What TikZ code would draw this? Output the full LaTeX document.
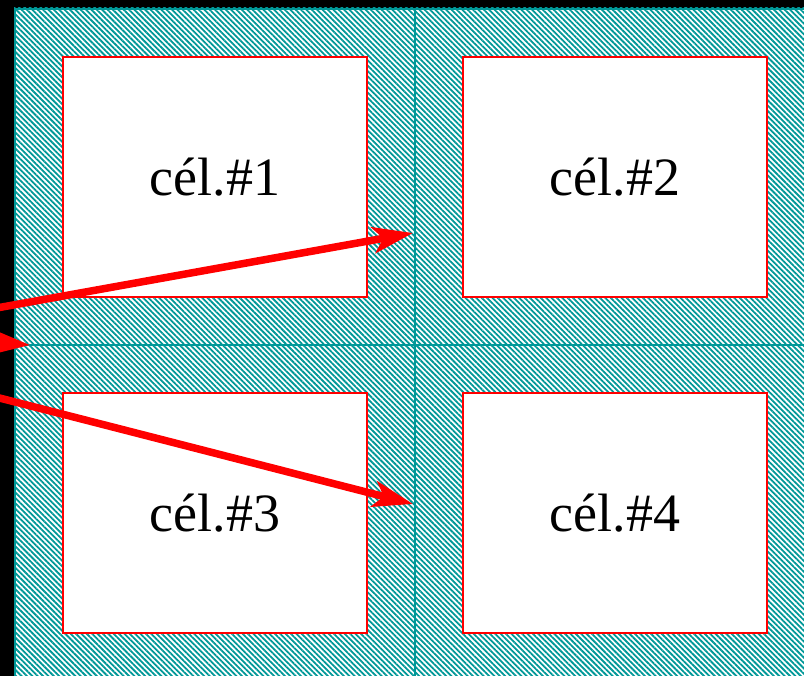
\documentclass[tikz,border=0pt]{standalone}
\usepackage{fontspec}
\setmainfont{Liberation Serif}
\usetikzlibrary{patterns.meta,arrows.meta}
\definecolor{tealc}{RGB}{0,152,152}
\definecolor{redc}{RGB}{255,0,0}
\tikzset{
  cell/.style={draw=redc, line width=1.6pt, fill=white, minimum width=304pt, minimum height=240pt, inner sep=0pt, font=\fontsize{54}{60}\selectfont},
  arr/.style={draw=redc, line width=7.5pt, -{Stealth[length=40pt,width=26pt,inset=10pt]}},
  gridline/.style={draw=tealc, line width=2.4pt},
}
\begin{document}
\begin{tikzpicture}[x=1pt,y=-1pt]
\useasboundingbox (0,0) rectangle (804,676);
\fill[black] (0,0) rectangle (804,676);
\fill[white] (14,8) rectangle (810,680);
\fill[pattern={Lines[angle=-45,distance=3.8pt,line width=1.8pt]}, pattern color=tealc] (14,8) rectangle (810,680);
\draw[gridline] (15,680) -- (15,9) -- (810,9);
\coordinate (gt) at (415,9);
\coordinate (gb) at (415,680);
\coordinate (gl) at (15,345);
\coordinate (gr) at (810,345);
\draw[gridline] (gt) -- (gb);
\draw[gridline] (gl) -- (gr);
\node[cell] (c1) at (215,177) {cél.\#1};
\node[cell] (c2) at (615,177) {cél.\#2};
\node[cell] (c3) at (215,513) {cél.\#3};
\node[cell] (c4) at (615,513) {cél.\#4};
\coordinate (s1) at (-20,311);
\coordinate (t1) at (413,233);
\coordinate (s2) at (-60,338);
\coordinate (t2) at (30,345);
\coordinate (s3) at (-20,393);
\coordinate (t3) at (413,504);
\draw[arr] (s1) -- (t1);
\draw[arr] (s2) -- (t2);
\draw[arr] (s3) -- (t3);
\end{tikzpicture}
\end{document}
